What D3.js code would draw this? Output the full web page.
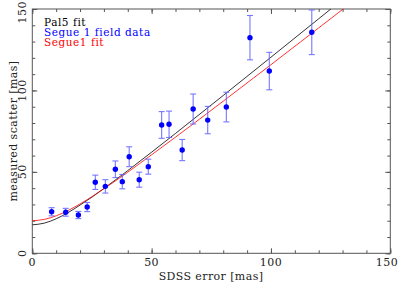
<!DOCTYPE html>
<html>
<head>
<meta charset="utf-8">
<script src="https://cdn.jsdelivr.net/npm/d3@7"></script>
<style>
  body { margin: 0; background: #fff; }
  svg { display: block; }
</style>
</head>
<body>
<svg id="chart" width="400" height="291"></svg>
<script>
// Segue 1 field data (SDSS error vs measured scatter, mas)
var sdssError = [8.1, 14.0, 19.3, 23.0, 26.4, 30.6, 34.8, 37.7, 40.6, 44.8,
  48.6, 54.2, 57.3, 62.8, 67.4, 73.5, 81.3, 91.2, 99.3, 117.1];
var scatter = [25.5, 25.2, 23.5, 28.4, 43.6, 41.1, 51.6, 44.0, 59.3, 45.2,
  53.2, 78.8, 79.2, 63.4, 88.6, 81.8, 89.8, 132.4, 111.9, 135.7];
var scatterErr = [2.5, 2.4, 2.2, 2.8, 4.4, 4.1, 5.1, 4.4, 6.1, 4.6,
  4.6, 8.2, 8.1, 6.5, 9.2, 8.4, 9.1, 13.6, 11.5, 13.7];

// fit curves
var fitX = [0, 5, 10, 15, 20, 25, 30, 40, 50, 60, 80, 100, 120, 140];
var pal5Fit = [17.5, 18.5, 21.2, 25.0, 29.6, 34.5, 39.8, 50.8, 62.1, 73.6, 96.9, 120.4, 144.0, 167.7];
var segue1Fit = [20.0, 20.8, 23.0, 26.3, 30.3, 34.8, 39.6, 49.8, 60.5, 71.3, 93.4, 115.8, 138.4, 161.0];

var xTicks = [0, 50, 100, 150];
var yTicks = [0, 50, 100, 150];
var legendLabels = ["Pal5 fit", "Segue 1 field data", "Segue1 fit"];
var legendColors = ["#000", "#0000ff", "#ff0000"];

var frame = { left: 32.3, right: 390.3, top: 9, bottom: 253.3 };
var fontFamily = "'DejaVu Serif', serif";
var axisColor = "#555";

var svg = d3.select("#chart");

var x = d3.scaleLinear().domain([0, 150]).range([frame.left, frame.right]);
var y = d3.scaleLinear().domain([0, 150]).range([frame.bottom, frame.top]);

svg.append("defs")
  .append("clipPath")
  .attr("id", "plotClip")
  .append("rect")
  .attr("x", frame.left)
  .attr("y", frame.top)
  .attr("width", frame.right - frame.left)
  .attr("height", frame.bottom - frame.top);

// ticks on all four sides, pointing inward
function drawTicks(g, axisFn, scale, offset) {
  var minor = d3.range(0, 151, 10);
  g.append("g")
    .attr("transform", offset)
    .call(axisFn(scale).tickValues(minor).tickSize(3).tickFormat(""))
    .call(function (s) {
      s.select(".domain").remove();
      s.selectAll("line").attr("stroke", axisColor);
    });
  g.append("g")
    .attr("transform", offset)
    .call(axisFn(scale).tickValues(xTicks).tickSize(5).tickFormat(""))
    .call(function (s) {
      s.select(".domain").remove();
      s.selectAll("line").attr("stroke", axisColor);
    });
}

var ticks = svg.append("g");
drawTicks(ticks, d3.axisTop, x, "translate(0," + frame.bottom + ")");
drawTicks(ticks, d3.axisBottom, x, "translate(0," + frame.top + ")");
drawTicks(ticks, d3.axisRight, y, "translate(" + frame.left + ",0)");
drawTicks(ticks, d3.axisLeft, y, "translate(" + frame.right + ",0)");

svg.append("rect")
  .attr("x", frame.left)
  .attr("y", frame.top)
  .attr("width", frame.right - frame.left)
  .attr("height", frame.bottom - frame.top)
  .attr("fill", "none")
  .attr("stroke", axisColor)
  .attr("stroke-width", 1);

// tick labels
svg.append("g")
  .selectAll("text")
  .data(xTicks)
  .enter()
  .append("text")
  .attr("x", function (d) { return x(d); })
  .attr("y", 266)
  .attr("text-anchor", function (d) { return d == 150 ? "end" : "middle"; })
  .attr("dx", function (d) { return d == 150 ? 8 : 0; })
  .attr("font-family", fontFamily)
  .attr("font-size", "11px")
  .attr("letter-spacing", "0.5px")
  .attr("fill", "#222")
  .text(function (d) { return d; });

svg.append("g")
  .selectAll("text")
  .data(yTicks)
  .enter()
  .append("text")
  .attr("transform", function (d) { return "translate(26," + y(d) + ")rotate(-90)"; })
  .attr("text-anchor", function (d) { return d == 150 ? "end" : "middle"; })
  .attr("dx", function (d) { return d == 150 ? 8 : 0; })
  .attr("font-family", fontFamily)
  .attr("font-size", "11px")
  .attr("letter-spacing", "0.5px")
  .attr("fill", "#222")
  .text(function (d) { return d; });

// axis titles
svg.append("text")
  .attr("x", 211)
  .attr("y", 280)
  .attr("text-anchor", "middle")
  .attr("font-family", fontFamily)
  .attr("font-size", "11px")
  .attr("letter-spacing", "0.4px")
  .attr("fill", "#222")
  .text("SDSS error [mas]");

svg.append("text")
  .attr("transform", "translate(17,131)rotate(-90)")
  .attr("text-anchor", "middle")
  .attr("font-family", fontFamily)
  .attr("font-size", "11px")
  .attr("letter-spacing", "0.4px")
  .attr("fill", "#222")
  .text("measured scatter [mas]");

// fit lines
var plot = svg.append("g").attr("clip-path", "url(#plotClip)");

var line = d3.line()
  .x(function (d) { return x(d[0]); })
  .y(function (d) { return y(d[1]); })
  .curve(d3.curveMonotoneX);

plot.append("path")
  .datum(d3.zip(fitX, pal5Fit))
  .attr("d", line)
  .attr("fill", "none")
  .attr("stroke", "#000")
  .attr("stroke-width", 0.8);

plot.append("path")
  .datum(d3.zip(fitX, segue1Fit))
  .attr("d", line)
  .attr("fill", "none")
  .attr("stroke", "#ff0000")
  .attr("stroke-width", 0.8);

// error bars
var pts = d3.range(sdssError.length).map(function (i) {
  return { x: sdssError[i], y: scatter[i], e: scatterErr[i] };
});

var bars = plot.append("g")
  .attr("stroke", "#6060ff")
  .attr("stroke-width", 1.1)
  .attr("opacity", 0.85);

bars.selectAll("line.v")
  .data(pts)
  .enter()
  .append("line")
  .attr("x1", function (d) { return x(d.x); })
  .attr("x2", function (d) { return x(d.x); })
  .attr("y1", function (d) { return y(d.y - d.e); })
  .attr("y2", function (d) { return y(d.y + d.e); });

[-1, 1].forEach(function (sgn) {
  bars.selectAll("line.cap" + sgn)
    .data(pts)
    .enter()
    .append("line")
    .attr("x1", function (d) { return x(d.x) - 3; })
    .attr("x2", function (d) { return x(d.x) + 3; })
    .attr("y1", function (d) { return y(d.y + sgn * d.e); })
    .attr("y2", function (d) { return y(d.y + sgn * d.e); });
});

plot.append("g")
  .selectAll("circle")
  .data(pts)
  .enter()
  .append("circle")
  .attr("cx", function (d) { return x(d.x); })
  .attr("cy", function (d) { return y(d.y); })
  .attr("r", 2.7)
  .attr("fill", "#0000ff");

// legend
svg.append("g")
  .selectAll("text")
  .data(legendLabels)
  .enter()
  .append("text")
  .attr("x", 44)
  .attr("y", function (d, i) { return 25.5 + i * 10; })
  .attr("font-family", fontFamily)
  .attr("font-size", "10.5px")
  .attr("letter-spacing", "0.55px")
  .attr("fill", function (d, i) { return legendColors[i]; })
  .text(function (d) { return d; });
</script>
</body>
</html>
